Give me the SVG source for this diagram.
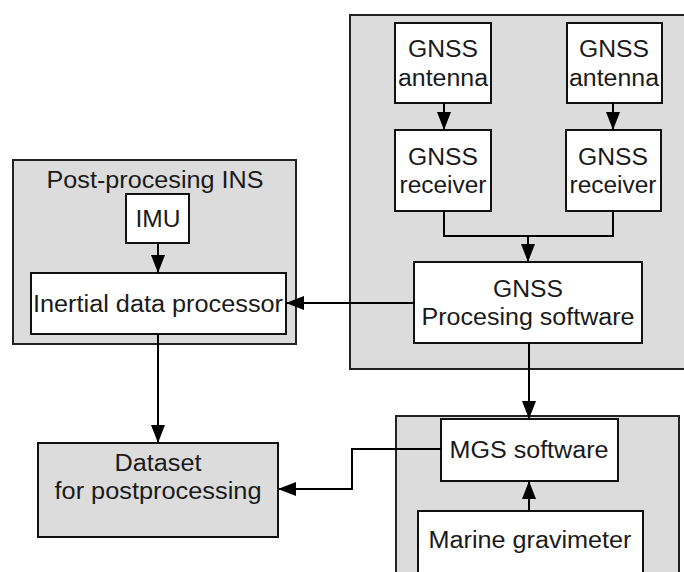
<svg xmlns="http://www.w3.org/2000/svg" width="684" height="572" viewBox="0 0 684 572">
<defs>
<style>
.grp{fill:#dcdcdc;stroke:#222;stroke-width:2}
.box{fill:#fff;stroke:#111;stroke-width:2}
.gbox{fill:#dcdcdc;stroke:#111;stroke-width:2}
.t{font-family:"Liberation Sans",Arial,sans-serif;font-size:23.5px;fill:#1a1a1a;text-anchor:middle}
.c{fill:none;stroke:#000;stroke-width:2}
</style>
<marker id="ah" viewBox="0 0 18 14" refX="18" refY="7" markerWidth="18" markerHeight="14" markerUnits="userSpaceOnUse" orient="auto">
<path d="M0,0 L18,7 L0,14 Z" fill="#000"/>
</marker>
</defs>
<rect width="684" height="572" fill="#fff"/>
<g id="gnss-group">
<rect class="grp" x="350" y="15" width="345" height="354"/>
</g>
<g id="ins-group">
<rect class="grp" x="13" y="160" width="283" height="184"/>
<text class="t" x="155" y="188" textLength="217" lengthAdjust="spacingAndGlyphs">Post-procesing INS</text>
</g>
<g id="mgs-group">
<rect class="grp" x="396" y="416" width="283" height="170"/>
</g>
<g id="antenna1">
<rect class="box" x="395" y="23" width="96" height="80"/>
<text class="t" x="443" y="57" textLength="70" lengthAdjust="spacingAndGlyphs">GNSS</text>
<text class="t" x="443" y="86" textLength="90" lengthAdjust="spacingAndGlyphs">antenna</text>
</g>
<g id="antenna2">
<rect class="box" x="567" y="23" width="95" height="80"/>
<text class="t" x="614" y="57" textLength="70" lengthAdjust="spacingAndGlyphs">GNSS</text>
<text class="t" x="614" y="86" textLength="90" lengthAdjust="spacingAndGlyphs">antenna</text>
</g>
<g id="receiver1">
<rect class="box" x="395" y="130" width="96" height="81"/>
<text class="t" x="443" y="165" textLength="70" lengthAdjust="spacingAndGlyphs">GNSS</text>
<text class="t" x="443" y="193" textLength="87" lengthAdjust="spacingAndGlyphs">receiver</text>
</g>
<g id="receiver2">
<rect class="box" x="566" y="130" width="95" height="81"/>
<text class="t" x="613" y="165" textLength="70" lengthAdjust="spacingAndGlyphs">GNSS</text>
<text class="t" x="613" y="193" textLength="87" lengthAdjust="spacingAndGlyphs">receiver</text>
</g>
<g id="gnss-software">
<rect class="box" x="414" y="262" width="228" height="81"/>
<text class="t" x="528" y="297" textLength="70" lengthAdjust="spacingAndGlyphs">GNSS</text>
<text class="t" x="528" y="325" textLength="213" lengthAdjust="spacingAndGlyphs">Procesing software</text>
</g>
<g id="imu">
<rect class="box" x="126" y="194" width="63" height="49"/>
<text class="t" x="158" y="227" textLength="45" lengthAdjust="spacingAndGlyphs">IMU</text>
</g>
<g id="inertial">
<rect class="box" x="31" y="273" width="255" height="61"/>
<text class="t" x="158" y="312" textLength="250" lengthAdjust="spacingAndGlyphs">Inertial data processor</text>
</g>
<g id="dataset">
<rect class="gbox" x="38" y="443" width="240" height="94"/>
<text class="t" x="158" y="471" textLength="87" lengthAdjust="spacingAndGlyphs">Dataset</text>
<text class="t" x="158" y="499" textLength="207" lengthAdjust="spacingAndGlyphs">for postprocessing</text>
</g>
<g id="mgs-software">
<rect class="box" x="441" y="419" width="177" height="62"/>
<text class="t" x="529" y="458" textLength="159" lengthAdjust="spacingAndGlyphs">MGS software</text>
</g>
<g id="gravimeter">
<rect class="box" x="418" y="511" width="225" height="70"/>
<text class="t" x="530" y="548" textLength="203" lengthAdjust="spacingAndGlyphs">Marine gravimeter</text>
</g>
<g id="connectors">
<path class="c" d="M444,103 V130" marker-end="url(#ah)"/>
<path class="c" d="M613,103 V130" marker-end="url(#ah)"/>
<path class="c" d="M444,211 V236 H613 V211"/>
<path class="c" d="M528,236 V262" marker-end="url(#ah)"/>
<path class="c" d="M414,303 H286" marker-end="url(#ah)"/>
<path class="c" d="M158,243 V273" marker-end="url(#ah)"/>
<path class="c" d="M158,334 V443" marker-end="url(#ah)"/>
<path class="c" d="M529,343 V419" marker-end="url(#ah)"/>
<path class="c" d="M441,449 H352 V489 H278" marker-end="url(#ah)"/>
<path class="c" d="M529,511 V481" marker-end="url(#ah)"/>
</g>
</svg>
